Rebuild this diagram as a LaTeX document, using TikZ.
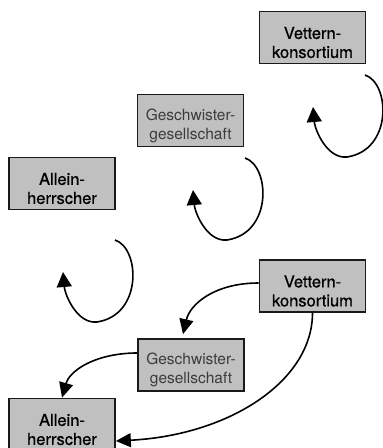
\documentclass[tikz,border=0pt]{standalone}
\usepackage{fontspec}
\setmainfont{TeX Gyre Heros}
\newfontfamily\heavyfont[FakeBold=0.6]{TeX Gyre Heros}
\usetikzlibrary{arrows.meta}
\definecolor{boxgray}{HTML}{C0C0C0}
\definecolor{edgegray}{HTML}{1A1A1A}
\definecolor{textgray}{HTML}{3C3C3C}
\begin{document}
\begin{tikzpicture}[x=1pt,y=-1pt,
  box/.style={draw=edgegray, line width=1.7pt, fill=boxgray, minimum width=106pt, minimum height=52pt, inner sep=0pt},
  darklbl/.style={font=\heavyfont\fontsize{16.5}{19}\selectfont, text=black, align=center, inner sep=0pt},
  lightlbl/.style={font=\fontsize{15.5}{19}\selectfont, text=textgray, align=center, inner sep=0pt},
  arr/.style={line width=1.6pt, -{Triangle[length=15pt,width=14pt]}},
  loopline/.style={line width=1.6pt, -{Triangle[length=15pt,width=15pt]}},
  loopshape/.pic={\draw[loopline] (0,0) .. controls (25,8) and (28,75) .. (-18,82) .. controls (-38,84) and (-50,55) .. (-52,32);}]
\useasboundingbox (0,0) rectangle (383,448);
\clip (0,0) rectangle (383,448);
% top row
\node[box] (v1) at (312.5,37.5) {};
\node[darklbl] (v1t) at ([yshift=-5pt]v1.center) {Vettern-\\konsortium};
\node[box] (g1) at (190.5,120.5) {};
\node[lightlbl] (g1t) at ([yshift=-5pt]g1.center) {Geschwister-\\gesellschaft};
\node[box] (a1) at (62,183.5) {};
\node[darklbl] (a1t) at ([yshift=-5pt]a1.center) {Allein-\\herrscher};
% loops
\coordinate (l1) at (365,75);
\coordinate (l2) at (245,158);
\coordinate (l3) at (115,240);
\pic at (l1) {loopshape};
\pic at (l2) {loopshape};
\pic at (l3) {loopshape};
% bottom group
\node[box] (v2) at (312.5,286) {};
\node[darklbl] (v2t) at ([yshift=-5pt]v2.center) {Vettern-\\konsortium};
\node[box] (g2) at (191,365) {};
\node[lightlbl] (g2t) at ([yshift=-5pt]g2.center) {Geschwister-\\gesellschaft};
\node[box] (a2) at (62,424.5) {};
\node[darklbl] (a2t) at ([yshift=-5pt]a2.center) {Allein-\\herrscher};
\draw[arr] ([yshift=3pt]v2.west) .. controls +(-44,0) and +(7,-30) .. ([xshift=-8pt,yshift=4pt]g2.north);
\draw[arr] ([yshift=12pt]g2.west) .. controls +(-40,0) and +(8,-28) .. (a2.north);
\draw[arr] (v2.south) .. controls +(0,68) and +(114,-6) .. ([yshift=-16.5pt]a2.east);
\end{tikzpicture}
\end{document}
